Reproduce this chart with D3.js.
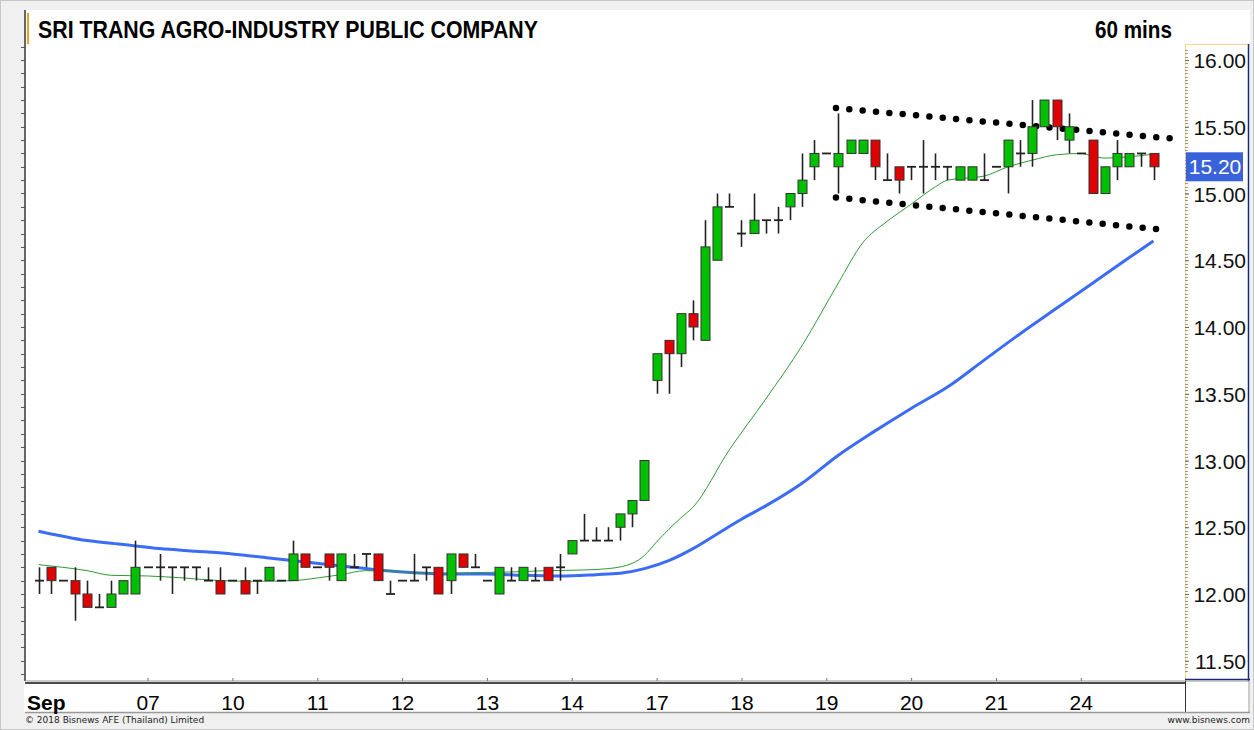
<!DOCTYPE html>
<html>
<head>
<meta charset="utf-8">
<script src="https://cdn.jsdelivr.net/npm/d3@7"></script>
<style>
    body { margin: 0; background: #f0f0f0; }
    svg { display: block; }
</style>
</head>
<body>
<div id="chart"></div>
<script>
// hourly candles, 5 Sep .. 24 Sep (7 bars per day, 93 bars)
const opens = [
    12.1, 12.2, 12.1, 12.1, 12.0, 11.9, 11.9, 12.0, 12.0,
    12.2, 12.2, 12.2, 12.2, 12.2, 12.1, 12.1,
    12.1, 12.1, 12.1, 12.1, 12.1, 12.1, 12.3,
    12.2, 12.3, 12.1, 12.2, 12.3, 12.3, 12.0,
    12.1, 12.1, 12.2, 12.2, 12.1, 12.3, 12.2,
    12.1, 12.0, 12.1, 12.1, 12.1, 12.2, 12.2,
    12.3, 12.4, 12.4, 12.4, 12.5, 12.6, 12.7,
    13.6, 13.9, 13.8, 14.1, 13.9, 14.5, 14.9,
    14.7, 14.7, 14.8, 14.8, 14.9, 15.0, 15.2,
    15.3, 15.2, 15.3, 15.3, 15.4, 15.1, 15.2,
    15.2, 15.2, 15.2, 15.2, 15.1, 15.1, 15.1,
    15.2, 15.2, 15.3, 15.3, 15.5, 15.7, 15.4,
    15.3, 15.4, 15.0, 15.2, 15.2, 15.3, 15.3
];
const highs = [
    12.2, 12.2, 12.1, 12.2, 12.1, 12.0, 12.1, 12.1, 12.4,
    12.2, 12.3, 12.2, 12.2, 12.2, 12.2, 12.2,
    12.1, 12.2, 12.1, 12.2, 12.1, 12.4, 12.3,
    12.2, 12.3, 12.3, 12.3, 12.3, 12.3, 12.1,
    12.1, 12.3, 12.2, 12.2, 12.3, 12.3, 12.3,
    12.1, 12.2, 12.2, 12.2, 12.2, 12.2, 12.3,
    12.4, 12.6, 12.5, 12.5, 12.6, 12.7, 13.0,
    13.8, 13.9, 14.1, 14.2, 14.8, 15.0, 15.0,
    14.8, 15.0, 14.8, 14.9, 15.0, 15.3, 15.4,
    15.3, 15.6, 15.4, 15.4, 15.4, 15.3, 15.2,
    15.2, 15.4, 15.3, 15.2, 15.2, 15.2, 15.3,
    15.2, 15.4, 15.4, 15.7, 15.7, 15.7, 15.6,
    15.3, 15.4, 15.2, 15.4, 15.3, 15.3, 15.3
];
const lows = [
    12.0, 12.0, 12.1, 11.8, 11.9, 11.9, 11.9, 12.0, 12.0,
    12.2, 12.1, 12.0, 12.1, 12.1, 12.1, 12.0,
    12.1, 12.0, 12.0, 12.1, 12.1, 12.1, 12.2,
    12.2, 12.1, 12.1, 12.2, 12.2, 12.1, 12.0,
    12.1, 12.1, 12.1, 12.0, 12.0, 12.2, 12.2,
    12.1, 12.0, 12.1, 12.1, 12.1, 12.1, 12.1,
    12.3, 12.4, 12.4, 12.4, 12.4, 12.5, 12.7,
    13.5, 13.5, 13.7, 13.9, 13.9, 14.5, 14.9,
    14.6, 14.7, 14.7, 14.7, 14.8, 14.9, 15.1,
    15.3, 15.0, 15.3, 15.3, 15.1, 15.1, 15.0,
    15.1, 15.0, 15.1, 15.1, 15.1, 15.1, 15.1,
    15.2, 15.0, 15.2, 15.2, 15.5, 15.4, 15.3,
    15.3, 15.0, 15.0, 15.1, 15.2, 15.2, 15.1
];
const closes = [
    12.1, 12.1, 12.1, 12.0, 11.9, 11.9, 12.0, 12.1, 12.2,
    12.2, 12.2, 12.2, 12.2, 12.2, 12.1, 12.0,
    12.1, 12.0, 12.1, 12.2, 12.1, 12.3, 12.2,
    12.2, 12.2, 12.3, 12.2, 12.3, 12.1, 12.0,
    12.1, 12.1, 12.2, 12.0, 12.3, 12.2, 12.2,
    12.1, 12.2, 12.1, 12.2, 12.1, 12.1, 12.2,
    12.4, 12.4, 12.4, 12.4, 12.6, 12.7, 13.0,
    13.8, 13.8, 14.1, 14.0, 14.6, 14.9, 14.9,
    14.7, 14.8, 14.8, 14.8, 15.0, 15.1, 15.3,
    15.3, 15.3, 15.4, 15.4, 15.2, 15.1, 15.1,
    15.2, 15.2, 15.2, 15.2, 15.2, 15.2, 15.1,
    15.2, 15.4, 15.3, 15.5, 15.7, 15.5, 15.5,
    15.3, 15.0, 15.2, 15.3, 15.3, 15.3, 15.2
];

// moving averages as [bar index, price]
const fastMA = [
    [0, 12.22], [2, 12.20], [4, 12.175], [6, 12.14], [9, 12.135], [12, 12.12], [15, 12.10],
    [18, 12.095], [21, 12.10], [23, 12.12], [25, 12.145], [27, 12.175], [30, 12.165],
    [33, 12.155], [36, 12.16], [39, 12.165], [42, 12.175], [45, 12.18], [47, 12.19],
    [49, 12.23], [50, 12.29], [51, 12.39], [53, 12.57], [54, 12.65], [57, 13.08],
    [60, 13.46], [63, 13.86], [66, 14.33], [68, 14.63], [70, 14.79], [72, 14.92],
    [74, 15.05], [75, 15.10], [78, 15.13], [80, 15.20], [82, 15.25], [84, 15.29],
    [86, 15.30], [87, 15.28], [88, 15.265], [90, 15.275], [92, 15.295]
];
const slowMA = [
    [0, 12.47], [4, 12.40], [7, 12.37], [10, 12.34], [13, 12.32], [16, 12.30], [19, 12.27],
    [22, 12.24], [25, 12.21], [28, 12.18], [31, 12.16], [34, 12.15], [37, 12.15],
    [40, 12.14], [43, 12.135], [46, 12.145], [48, 12.155], [50, 12.19], [52, 12.25],
    [54, 12.34], [56, 12.45], [58, 12.56], [60, 12.66], [63, 12.83], [66, 13.04], [69, 13.22],
    [72, 13.39], [75, 13.55], [78, 13.75], [81, 13.95], [84, 14.14], [87, 14.33],
    [90, 14.52], [92, 14.645]
];

// dotted channel drawn on the chart
const upperTrend = [[65.8, 15.64], [93.7, 15.41]];
const lowerTrend = [[65.8, 14.97], [92.6, 14.73]];

// axis labels
const dayStarts = [9, 16, 23, 30, 37, 44, 51, 58, 65, 72, 79, 86];
const dayLabels = ["07", "10", "11", "12", "13", "14", "17", "18", "19", "20", "21", "24"];
const monthLabel = "Sep";
const priceTicks = [11.5, 12.0, 12.5, 13.0, 13.5, 14.0, 14.5, 15.0, 15.5, 16.0];

const title = "SRI TRANG AGRO-INDUSTRY PUBLIC COMPANY";
const period = "60 mins";

function main() {
    const W = 1254, H = 730;
    // plot frame, in page pixels
    const plot = { left: 25, right: 1185, top: 45, bottom: 681 };
    const FONT = "'Liberation Sans', Arial, sans-serif";
    const NARROW = "'Liberation Sans Narrow', 'Arial Narrow', " + FONT;

    const svg = d3.select("#chart")
        .append("svg")
            .attr("width", W)
            .attr("height", H);

    // page background + white panel
    svg.append("rect").attr("x", 0).attr("y", 0).attr("width", W).attr("height", H).attr("fill", "#f0f0f0");
    svg.append("rect").attr("x", 0.5).attr("y", 0.5).attr("width", W - 1).attr("height", H - 1)
        .attr("fill", "none").attr("stroke", "#c8c8c8");
    svg.append("rect").attr("x", 24).attr("y", 10).attr("width", 1226).attr("height", 702).attr("fill", "#fff");

    const x = d3.scaleLinear()
        .domain([0, 92])
        .range([38.5, 1153.5]);

    const y = d3.scaleLinear()
        .domain([11.5, 16.0])
        .range([660.75, 60]);

    // title row
    svg.append("line").attr("x1", 28).attr("x2", 28).attr("y1", 13).attr("y2", 44)
        .attr("stroke", "#f0a020").attr("stroke-width", 2);
    svg.append("text")
        .attr("x", 38).attr("y", 38)
        .attr("font-family", NARROW)
        .attr("font-weight", "bold")
        .attr("font-size", 24)
        .attr("textLength", 500)
        .attr("lengthAdjust", "spacingAndGlyphs")
        .text(title);
    svg.append("text")
        .attr("x", 1172).attr("y", 38)
        .attr("text-anchor", "end")
        .attr("font-family", NARROW)
        .attr("font-weight", "bold")
        .attr("font-size", 24)
        .attr("textLength", 77)
        .attr("lengthAdjust", "spacingAndGlyphs")
        .text(period);

    // left border with 0.10 ticks
    svg.append("line").attr("x1", plot.left).attr("x2", plot.left).attr("y1", 10).attr("y2", plot.bottom)
        .attr("stroke", "#000").attr("stroke-width", 1.2);
    svg.append("g").selectAll("line")
        .data(d3.range(11.4, 16.25, 0.1).filter(v => y(v) > plot.top && y(v) < plot.bottom))
        .enter().append("line")
            .attr("x1", plot.left - 4).attr("x2", plot.left)
            .attr("y1", d => Math.round(y(d)) + 0.5).attr("y2", d => Math.round(y(d)) + 0.5)
            .attr("stroke", "#555");

    // right price panel
    svg.append("rect").attr("x", plot.right).attr("y", 44).attr("width", 63).attr("height", plot.bottom - 44)
        .attr("fill", "#fff");
    svg.append("line").attr("x1", plot.right + 0.5).attr("x2", plot.right + 0.5).attr("y1", 44).attr("y2", plot.bottom)
        .attr("stroke", "#f5d98a");
    svg.append("line").attr("x1", plot.right).attr("x2", 1250).attr("y1", 44.5).attr("y2", 44.5)
        .attr("stroke", "#f5d98a");
    svg.append("line").attr("x1", 1248.5).attr("x2", 1248.5).attr("y1", 44).attr("y2", plot.bottom)
        .attr("stroke", "#1a2a7a").attr("stroke-width", 1.5);
    svg.append("line").attr("x1", plot.right).attr("x2", 1250).attr("y1", plot.bottom - 1.5).attr("y2", plot.bottom - 1.5)
        .attr("stroke", "#1a2a7a").attr("stroke-width", 1.5);

    // minor ticks on the price panel
    svg.append("g").selectAll("line")
        .data(d3.range(11.425, 16.2, 0.025).filter(v => y(v) > plot.top + 2 && y(v) < plot.bottom - 2))
        .enter().append("line")
            .attr("x1", plot.right).attr("x2", plot.right + 3)
            .attr("y1", d => Math.round(y(d)) + 0.5).attr("y2", d => Math.round(y(d)) + 0.5)
            .attr("stroke", "#999");

    const yAxis = svg.append("g")
        .attr("transform", `translate(${plot.right}, 0)`)
        .call(d3.axisRight(y).tickValues(priceTicks).tickFormat(d3.format(".2f")).tickSize(4));
    yAxis.select(".domain").remove();
    yAxis.selectAll(".tick line").attr("stroke", "#666");
    yAxis.selectAll(".tick text")
        .attr("x", 61)
        .attr("dy", "0.36em")
        .attr("text-anchor", "end")
        .attr("font-family", FONT)
        .attr("font-size", 21)
        .attr("fill", "#111");

    // dotted channel
    const straight = d3.line().x(d => x(d[0])).y(d => y(d[1]));
    [upperTrend, lowerTrend].forEach(t => {
        svg.append("path")
            .attr("d", straight(t))
            .attr("fill", "none")
            .attr("stroke", "#000")
            .attr("stroke-width", 6.5)
            .attr("stroke-linecap", "round")
            .attr("stroke-dasharray", "0 13.4");
    });

    // moving averages
    const curve = d3.line().x(d => x(d[0])).y(d => y(d[1])).curve(d3.curveMonotoneX);
    svg.append("path")
        .attr("d", curve(slowMA))
        .attr("fill", "none")
        .attr("stroke", "#3b6cf6")
        .attr("stroke-width", 3);
    svg.append("path")
        .attr("d", curve(fastMA))
        .attr("fill", "none")
        .attr("stroke", "#2f9a35")
        .attr("stroke-width", 1);

    // candles
    const bars = d3.range(opens.length).map(i => ({
        i: i, o: opens[i], h: highs[i], l: lows[i], c: closes[i]
    }));
    const bw = 9;

    const candle = svg.append("g").selectAll("g")
        .data(bars)
        .enter().append("g");

    candle.append("line")
        .attr("x1", d => Math.round(x(d.i)) + 0.5)
        .attr("x2", d => Math.round(x(d.i)) + 0.5)
        .attr("y1", d => y(d.h))
        .attr("y2", d => y(d.l))
        .attr("stroke", "#222")
        .attr("stroke-width", 1.6);

    candle.filter(d => d.o !== d.c).append("rect")
        .attr("x", d => Math.round(x(d.i)) + 0.5 - bw / 2)
        .attr("y", d => y(Math.max(d.o, d.c)))
        .attr("width", bw)
        .attr("height", d => Math.abs(y(d.o) - y(d.c)))
        .attr("fill", d => d.c > d.o ? "#00c000" : "#e00000")
        .attr("stroke", "#333")
        .attr("stroke-width", 1);

    candle.filter(d => d.o === d.c).append("line")
        .attr("x1", d => Math.round(x(d.i)) + 0.5 - 4.5)
        .attr("x2", d => Math.round(x(d.i)) + 0.5 + 4.5)
        .attr("y1", d => y(d.o))
        .attr("y2", d => y(d.o))
        .attr("stroke", "#222")
        .attr("stroke-width", 1.8);

    // last price marker
    const last = closes[closes.length - 1];
    svg.append("rect")
        .attr("x", plot.right + 1).attr("y", y(last) - 14.5)
        .attr("width", 57).attr("height", 29)
        .attr("fill", "#3a62db");
    svg.append("text")
        .attr("x", plot.right + 30).attr("y", y(last))
        .attr("dy", "0.36em")
        .attr("text-anchor", "middle")
        .attr("font-family", FONT)
        .attr("font-size", 21)
        .attr("fill", "#fff")
        .text(d3.format(".2f")(last));

    // date axis
    svg.append("line").attr("x1", plot.left).attr("x2", 1250).attr("y1", plot.bottom).attr("y2", plot.bottom)
        .attr("stroke", "#999");
    svg.append("line").attr("x1", plot.left).attr("x2", plot.right).attr("y1", plot.bottom + 2).attr("y2", plot.bottom + 2)
        .attr("stroke", "#111").attr("stroke-width", 1.5);
    svg.append("line").attr("x1", plot.right + 0.5).attr("x2", plot.right + 0.5).attr("y1", plot.bottom).attr("y2", 712)
        .attr("stroke", "#333");
    svg.append("line").attr("x1", 1249).attr("x2", 1249).attr("y1", plot.bottom).attr("y2", 712)
        .attr("stroke", "#999");
    svg.append("line").attr("x1", plot.left).attr("x2", 1250).attr("y1", 712.5).attr("y2", 712.5)
        .attr("stroke", "#999").attr("stroke-width", 1.5);

    const xAxis = svg.append("g")
        .attr("transform", `translate(0, ${plot.bottom})`)
        .call(d3.axisBottom(x)
            .tickValues(dayStarts)
            .tickFormat((d, k) => dayLabels[k])
            .tickSizeInner(-3)
            .tickSizeOuter(0));
    xAxis.select(".domain").remove();
    xAxis.selectAll(".tick line").attr("stroke", "#777");
    xAxis.selectAll(".tick text")
        .attr("y", 10)
        .attr("dy", "0.9em")
        .attr("font-family", FONT)
        .attr("font-size", 21)
        .attr("fill", "#000");

    svg.append("text")
        .attr("x", plot.left + 2).attr("y", plot.bottom + 10)
        .attr("dy", "0.9em")
        .attr("font-family", FONT)
        .attr("font-weight", "bold")
        .attr("font-size", 21)
        .text(monthLabel);

    // footer
    svg.append("text")
        .attr("x", 25).attr("y", 723)
        .attr("font-family", "'DejaVu Sans', Tahoma, sans-serif")
        .attr("font-size", 9)
        .attr("fill", "#222")
        .text("© 2018 Bisnews AFE (Thailand) Limited");
    svg.append("text")
        .attr("x", 1250).attr("y", 723)
        .attr("text-anchor", "end")
        .attr("font-family", "'DejaVu Sans', Tahoma, sans-serif")
        .attr("font-size", 9)
        .attr("fill", "#222")
        .text("www.bisnews.com");
}

main();
</script>
</body>
</html>
